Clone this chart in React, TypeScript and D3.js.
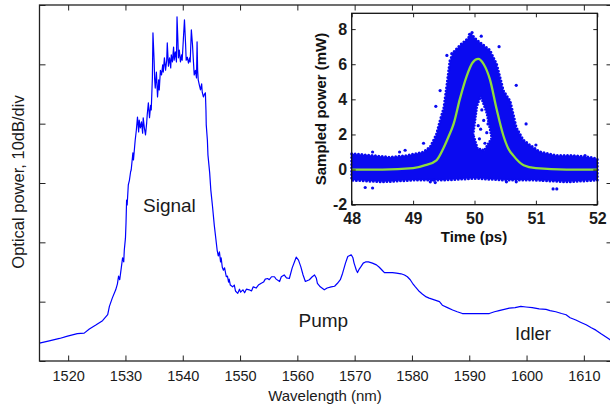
import * as d3 from "d3";
import { useEffect, useRef } from "react";

// Main spectrum, wavelength in nm and power in dB (relative, 10 dB/div)
const riseWl = [
    1515.0, 1516.7, 1518.5, 1519.9, 1521.6, 1522.8, 1523.7, 1524.9, 1526.0, 1526.9,
    1527.2, 1527.7, 1528.3, 1528.6, 1528.8, 1529.0, 1529.3, 1529.5, 1529.7, 1529.8,
    1530.0, 1530.1, 1530.2, 1530.3, 1530.5, 1530.7, 1530.9, 1531.0, 1531.3, 1531.4,
    1531.6, 1531.7, 1531.9, 1532.1, 1532.3, 1532.4, 1532.6, 1532.8, 1533.0, 1533.1,
    1533.3, 1533.5, 1533.7, 1533.8, 1534.0, 1534.2, 1534.4, 1534.5,
];
const risePower = [
    3.0, 3.4, 3.8, 4.2, 4.6, 4.7, 5.4, 6.1, 6.8, 7.8,
    9.2, 10.6, 12.0, 13.0, 14.3, 13.7, 15.9, 17.4, 16.7, 18.7,
    20.7, 23.3, 27.1, 26.3, 29.7, 30.5, 31.9, 32.2, 35.1, 33.9,
    36.1, 37.2, 38.9, 41.1, 38.6, 40.6, 39.3, 40.3, 38.4, 41.0,
    39.3, 38.1, 40.1, 41.5, 43.5, 41.0, 43.1, 42.3,
];
const peakWl = [
    1534.7, 1534.8, 1535.0, 1535.1, 1535.2, 1535.4, 1535.6, 1535.8, 1535.9, 1536.1,
    1536.3, 1536.5, 1536.6, 1536.8, 1537.0, 1537.2, 1537.3, 1537.5, 1537.7, 1537.9,
    1538.0, 1538.2, 1538.4, 1538.5, 1538.7, 1538.9, 1539.0, 1539.15, 1539.25, 1539.4,
    1539.6, 1539.8, 1539.9, 1540.1, 1540.3, 1540.5, 1540.6, 1540.8, 1541.0, 1541.2,
    1541.3, 1541.5, 1541.7, 1541.9, 1542.0, 1542.2, 1542.4, 1542.5, 1542.6, 1542.7,
    1542.9, 1543.1, 1543.3, 1543.4, 1543.6, 1543.8, 1543.95, 1544.05, 1544.1, 1544.3,
    1544.4, 1544.7, 1544.9, 1545.2, 1545.5, 1545.8,
];
const peakPower = [
    47.7, 55.3, 50.7, 47.4, 46.0, 48.7, 44.5, 47.4, 45.7, 49.0,
    48.2, 49.9, 48.7, 51.1, 49.0, 50.7, 53.6, 49.7, 51.1, 49.4,
    51.6, 50.4, 52.9, 50.7, 52.1, 50.4, 58.0, 54.1, 51.1, 52.4,
    50.4, 51.6, 50.7, 54.1, 57.5, 53.3, 50.7, 51.2, 50.2, 51.1,
    50.4, 55.8, 53.3, 49.9, 48.2, 49.0, 47.7, 53.8, 49.0, 47.4,
    46.5, 45.7, 46.7, 45.3, 44.5, 45.0, 45.2, 42.3, 39.8, 37.2,
    34.7, 31.7, 28.8, 26.0, 22.9, 20.4,
];
const tailWl = [
    1546.0, 1546.2, 1546.4, 1546.6, 1546.7, 1546.9, 1547.1, 1547.3, 1547.6, 1547.8,
    1548.0, 1548.1, 1548.3, 1548.7, 1549.0, 1549.2, 1549.6, 1549.9, 1550.1, 1550.5,
    1550.8, 1551.1, 1551.6, 1552.0, 1552.3, 1552.8, 1553.2, 1553.7, 1554.1, 1554.4,
    1554.8, 1555.1, 1555.5, 1556.0, 1556.3, 1556.9, 1557.2, 1557.7, 1558.1, 1558.6,
    1559.1, 1559.8, 1560.2, 1560.6, 1561.0, 1561.4, 1562.1, 1562.6, 1563.0, 1563.3,
    1563.5, 1564.0, 1564.7, 1565.2, 1565.9, 1566.5, 1567.0, 1567.5, 1567.9, 1568.4,
    1568.8, 1569.4, 1569.7, 1569.9, 1570.3, 1570.5, 1570.8, 1571.1, 1571.5, 1571.9,
    1572.4, 1573.1, 1573.8, 1574.3, 1574.8, 1575.2, 1575.9, 1576.6, 1577.3, 1578.1,
    1578.7, 1579.2, 1579.7, 1580.1, 1580.6, 1581.3, 1581.8, 1582.5, 1583.0, 1583.9,
    1584.8, 1585.3, 1586.2, 1587.1, 1587.9, 1588.8, 1590.0, 1591.2, 1592.3, 1593.5,
    1594.4, 1595.2, 1596.1, 1597.0, 1598.0, 1599.0, 1599.9, 1601.0, 1602.2, 1603.4,
    1604.1, 1605.1, 1606.1, 1606.9, 1607.6, 1608.6, 1609.5, 1610.4, 1611.3, 1612.1,
    1613.0, 1613.8, 1614.4, 1615.0,
];
const tailPower = [
    18.7, 17.7, 18.4, 16.7, 17.4, 15.8, 15.3, 15.7, 14.2, 14.3,
    13.3, 13.8, 12.8, 12.5, 12.8, 11.8, 11.4, 12.1, 11.6, 12.0,
    11.5, 12.1, 12.0, 11.8, 12.5, 12.3, 12.8, 13.1, 13.3, 13.8,
    13.9, 13.7, 14.2, 14.2, 13.8, 13.4, 14.2, 14.5, 14.0, 13.9,
    15.7, 17.5, 17.0, 15.9, 14.5, 13.4, 13.7, 14.2, 14.5, 14.0,
    13.1, 12.5, 12.0, 12.3, 12.5, 12.6, 13.1, 13.7, 14.8, 16.5,
    17.6, 17.9, 17.4, 16.5, 15.3, 14.9, 15.5, 15.9, 16.5, 16.7,
    16.7, 16.5, 16.2, 15.8, 15.3, 14.9, 14.9, 14.9, 14.8, 14.7,
    14.5, 14.2, 13.7, 13.1, 12.5, 11.7, 11.3, 10.8, 10.6, 10.3,
    10.0, 9.4, 9.0, 8.6, 8.3, 8.0, 8.0, 8.0, 8.0, 8.0,
    8.3, 8.5, 8.7, 8.9, 9.0, 9.2, 9.1, 9.0, 8.8, 8.7,
    8.5, 8.3, 8.0, 7.8, 7.3, 6.9, 6.5, 6.1, 5.6, 5.2,
    4.6, 4.1, 3.7, 3.3,
];
const wlTicks = [1520, 1530, 1540, 1550, 1560, 1570, 1580, 1590, 1600, 1610];
const powerTicks = [0, 10, 20, 30, 40, 50, 60];

// Inset: sampled pulse (ps, mW)
const cloudTopT = [48.0, 48.35, 48.62, 48.9, 49.17, 49.28, 49.38, 49.44, 49.5, 49.55, 49.6, 49.66, 49.77, 49.87, 49.95, 50.03, 50.14, 50.25, 50.36, 50.47, 50.58, 50.68, 50.79, 50.9, 51.07, 51.34, 51.61, 51.88, 52.0];
const cloudTopP = [0.9, 0.8, 0.7, 0.8, 1.0, 1.3, 2.0, 2.8, 3.5, 4.8, 6.2, 6.7, 7.1, 7.4, 7.7, 7.4, 7.1, 6.8, 6.0, 4.5, 3.9, 2.4, 1.7, 1.4, 1.0, 0.8, 0.8, 0.7, 0.6];
const cloudBottomT = [48.0, 48.5, 49.0, 49.5, 50.0, 50.5, 51.0, 51.5, 52.0];
const cloudBottomP = [-0.6, -0.7, -0.6, -0.6, -0.5, -0.6, -0.6, -0.7, -0.6];
// thinner patch under the peak
const notchT = [49.98, 50.04, 50.1, 50.2, 50.28, 50.16, 50.05];
const notchP = [2.0, 3.6, 4.2, 3.2, 1.8, 1.1, 1.2];
const strayT = [48.22, 48.34, 48.34, 48.78, 48.87, 49.17, 49.28, 49.36, 49.37, 49.44, 49.55, 49.63, 49.92, 49.96, 50.11, 50.4, 50.68, 50.84, 51.0, 51.11, 51.28, 51.34, 50.68, 50.52, 51.8, 49.33, 50.08, 50.12, 50.15, 50.2, 50.06, 50.22, 50.1, 50.17];
const strayP = [-1.02, -1.05, 1.0, 1.0, 1.1, 1.5, -0.7, -0.74, 3.6, 4.5, 6.5, 6.6, 7.7, 7.8, 7.6, 7.0, 4.8, 2.6, 1.4, -0.6, -1.1, -1.1, -0.7, -0.7, 0.8, -0.6, 1.75, 3.4, 2.8, 2.1, 2.5, 2.6, 2.3, 1.5];
const fitT = [48.0, 48.5, 49.0, 49.2, 49.38, 49.49, 49.58, 49.66, 49.76, 49.87, 49.97, 50.06, 50.15, 50.25, 50.36, 50.47, 50.55, 50.63, 50.8, 51.0, 51.5, 52.0];
const fitP = [0.0, 0.0, 0.08, 0.25, 0.53, 1.19, 1.9, 2.6, 4.0, 5.3, 6.1, 6.3, 6.0, 5.15, 3.45, 1.94, 1.2, 0.81, 0.25, 0.08, 0.0, 0.0];
const timeTicks = [48, 49, 50, 51, 52];
const sampledTicks = [-2, 0, 2, 4, 6, 8];

const FONT = "'Liberation Sans', Arial, Helvetica, sans-serif";

export default function App() {
    const svgRef = useRef<SVGSVGElement>(null);
    const svgWidth = 610;
    const svgHeight = 408;

    useEffect(() => {
        if (svgRef.current) {
            drawChart();
        }
    }, [svgRef]);

    const drawChart = () => {
        const svg = d3.select(svgRef.current);
        svg.selectAll("*").remove();

        drawMain(svg);
        drawInset(svg);
    };

    const tidyAxis = (g: any, size: number, weight: string) => {
        g.select(".domain").remove();
        g.attr("font-family", FONT).attr("font-size", size).attr("font-weight", weight);
        g.selectAll("line").attr("stroke", "#222").attr("stroke-width", 1);
        g.selectAll("text").attr("fill", "#1a1a1a");
    };

    const drawMain = (svg: any) => {
        const left = 39.5;
        const right = 612.5;
        const top = 5;
        const bottom = 361;

        var scaleX = d3.scaleLinear().domain([1515, 1615]).range([left, right]);
        var scaleY = d3.scaleLinear().domain([0, 60]).range([bottom, top]);

        const wl = [...riseWl, ...peakWl, ...tailWl];
        const pw = [...risePower, ...peakPower, ...tailPower];

        // spectrum
        svg.append("path")
            .datum(wl.map((d, i) => [d, pw[i]]))
            .attr("fill", "none")
            .attr("stroke", "#0000ff")
            .attr("stroke-width", 1.2)
            .attr("stroke-linejoin", "round")
            .attr(
                "d",
                d3
                    .line()
                    .x((d: any) => scaleX(d[0]))
                    .y((d: any) => scaleY(d[1]))
            );

        // axes, ticks pointing inward
        const bottomAxis = svg
            .append("g")
            .attr("transform", "translate(0," + bottom + ")")
            .call(
                d3
                    .axisBottom(scaleX)
                    .tickValues(wlTicks)
                    .tickSizeInner(-5.5)
                    .tickSizeOuter(0)
                    .tickPadding(9.5)
                    .tickFormat((d: any) => `${d}`)
            );
        tidyAxis(bottomAxis, 14.5, "normal");

        const topAxis = svg
            .append("g")
            .attr("transform", "translate(0," + top + ")")
            .call(d3.axisTop(scaleX).tickValues(wlTicks).tickSizeInner(-5.5).tickSizeOuter(0).tickFormat(() => ""));
        tidyAxis(topAxis, 10, "normal");

        const leftAxis = svg
            .append("g")
            .attr("transform", "translate(" + left + ",0)")
            .call(d3.axisLeft(scaleY).tickValues(powerTicks).tickSizeInner(-6).tickSizeOuter(0).tickFormat(() => ""));
        tidyAxis(leftAxis, 10, "normal");

        const rightAxis = svg
            .append("g")
            .attr("transform", "translate(" + right + ",0)")
            .call(d3.axisRight(scaleY).tickValues(powerTicks).tickSizeInner(-6).tickSizeOuter(0).tickFormat(() => ""));
        tidyAxis(rightAxis, 10, "normal");

        svg.append("rect")
            .attr("x", left)
            .attr("y", top)
            .attr("width", right - left)
            .attr("height", bottom - top)
            .attr("fill", "none")
            .attr("stroke", "#222")
            .attr("stroke-width", 1.3);

        // axis titles
        svg.append("text")
            .attr("x", 325)
            .attr("y", 401)
            .attr("text-anchor", "middle")
            .attr("font-family", FONT)
            .attr("font-size", 15)
            .attr("fill", "#1a1a1a")
            .text("Wavelength (nm)");
        svg.append("text")
            .attr("transform", "translate(24,182) rotate(-90)")
            .attr("text-anchor", "middle")
            .attr("font-family", FONT)
            .attr("font-size", 16.5)
            .attr("fill", "#1a1a1a")
            .text("Optical power, 10dB/div");

        // annotations
        const notes = [
            { t: "Signal", x: 143, y: 211.5, s: 19 },
            { t: "Pump", x: 298.5, y: 326.5, s: 19 },
            { t: "Idler", x: 515, y: 339.5, s: 18.5 },
        ];
        notes.forEach((n) => {
            svg.append("text")
                .attr("x", n.x)
                .attr("y", n.y)
                .attr("font-family", FONT)
                .attr("font-size", n.s)
                .attr("fill", "#1a1a1a")
                .text(n.t);
        });
    };

    const drawInset = (svg: any) => {
        const left = 351.7;
        const right = 597.3;
        const top = 13.3;
        const bottom = 204.7;

        var scaleX = d3.scaleLinear().domain([48, 52]).range([left, right]);
        var scaleY = d3.scaleLinear().domain([-2, 8.9]).range([bottom, top]);

        svg.append("rect")
            .attr("x", left)
            .attr("y", top)
            .attr("width", right - left)
            .attr("height", bottom - top)
            .attr("fill", "#ffffff");

        // scatter cloud: outline
        const outline = [
            ...cloudTopT.map((t, i) => [t, cloudTopP[i]]),
            ...cloudBottomT.map((t, i) => [t, cloudBottomP[i]]).reverse(),
        ];
        const cloudLine = d3
            .line()
            .x((d: any) => scaleX(d[0]))
            .y((d: any) => scaleY(d[1]));
        svg.append("path")
            .attr("d", cloudLine(outline as any) + "Z")
            .attr("fill", "#0a0af0")
            .attr("stroke", "#0a0af0")
            .attr("stroke-width", 3)
            .attr("stroke-dasharray", "0 3.4")
            .attr("stroke-linecap", "round");

        // sparse patch below the peak
        svg.append("path")
            .attr("d", cloudLine(notchT.map((t, i) => [t, notchP[i]]) as any) + "Z")
            .attr("fill", "#ffffff")
            .attr("stroke", "#0a0af0")
            .attr("stroke-width", 2.6)
            .attr("stroke-dasharray", "0 3")
            .attr("stroke-linecap", "round");

        svg.append("g")
            .selectAll("circle")
            .data(strayT.map((t, i) => [t, strayP[i]]))
            .join("circle")
            .attr("cx", (d: any) => scaleX(d[0]))
            .attr("cy", (d: any) => scaleY(d[1]))
            .attr("r", 1.6)
            .attr("fill", "#0a0af0");

        // fitted pulse
        svg.append("path")
            .datum(fitT.map((t, i) => [t, fitP[i]]))
            .attr("fill", "none")
            .attr("stroke", "#8fdc3c")
            .attr("stroke-width", 2.3)
            .attr(
                "d",
                d3
                    .line()
                    .curve(d3.curveMonotoneX)
                    .x((d: any) => scaleX(d[0]))
                    .y((d: any) => scaleY(d[1]))
            );

        const bottomAxis = svg
            .append("g")
            .attr("transform", "translate(0," + bottom + ")")
            .call(
                d3
                    .axisBottom(scaleX)
                    .tickValues(timeTicks)
                    .tickSizeInner(-4)
                    .tickSizeOuter(0)
                    .tickPadding(8)
                    .tickFormat((d: any) => `${d}`)
            );
        tidyAxis(bottomAxis, 16, "bold");

        const leftAxis = svg
            .append("g")
            .attr("transform", "translate(" + left + ",0)")
            .call(
                d3
                    .axisLeft(scaleY)
                    .tickValues(sampledTicks)
                    .tickSizeInner(-4)
                    .tickSizeOuter(0)
                    .tickPadding(4.5)
                    .tickFormat((d: any) => `${d}`)
            );
        tidyAxis(leftAxis, 16, "bold");

        const topAxis = svg
            .append("g")
            .attr("transform", "translate(0," + top + ")")
            .call(d3.axisTop(scaleX).tickValues(timeTicks).tickSizeInner(-4).tickSizeOuter(0).tickFormat(() => ""));
        tidyAxis(topAxis, 10, "normal");

        const rightAxis = svg
            .append("g")
            .attr("transform", "translate(" + right + ",0)")
            .call(d3.axisRight(scaleY).tickValues(sampledTicks).tickSizeInner(-4).tickSizeOuter(0).tickFormat(() => ""));
        tidyAxis(rightAxis, 10, "normal");

        svg.append("rect")
            .attr("x", left)
            .attr("y", top)
            .attr("width", right - left)
            .attr("height", bottom - top)
            .attr("fill", "none")
            .attr("stroke", "#111")
            .attr("stroke-width", 1.3);

        svg.append("text")
            .attr("x", 474)
            .attr("y", 241.5)
            .attr("text-anchor", "middle")
            .attr("font-family", FONT)
            .attr("font-size", 15)
            .attr("font-weight", "bold")
            .attr("fill", "#111")
            .text("Time (ps)");
        svg.append("text")
            .attr("transform", "translate(326,109) rotate(-90)")
            .attr("text-anchor", "middle")
            .attr("font-family", FONT)
            .attr("font-size", 15)
            .attr("font-weight", "bold")
            .attr("fill", "#111")
            .text("Sampled power (mW)");
    };

    return (
        <svg
            ref={svgRef}
            width={svgWidth}
            height={svgHeight}
            style={{ position: "absolute", left: 0, top: 0, background: "#ffffff" }}
        />
    );
}
